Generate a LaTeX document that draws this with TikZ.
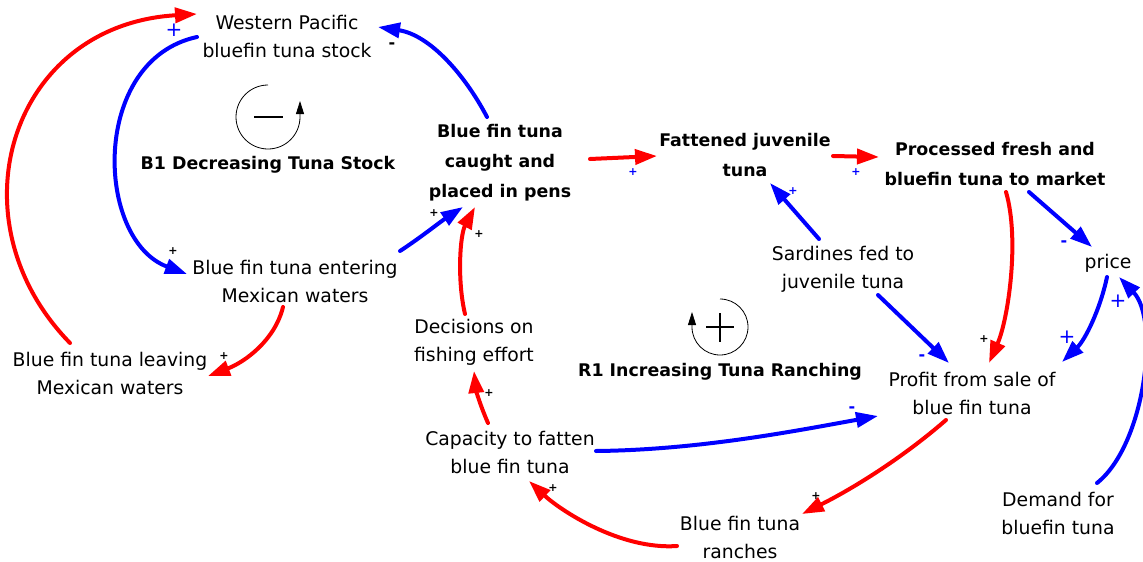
\documentclass[tikz,border=0pt]{standalone}
\usepackage{fontspec}
\setmainfont{DejaVu Sans}
\usetikzlibrary{arrows.meta,calc}
\definecolor{cred}{RGB}{255,0,0}
\definecolor{cblue}{RGB}{0,0,255}
\begin{document}
\begin{tikzpicture}[x=1pt,y=-1pt,
  txt/.style={align=center,inner sep=0pt,font=\fontsize{18.8}{28}\selectfont},
  btxt/.style={align=center,inner sep=0pt,font=\fontsize{17.4}{30}\selectfont\bfseries},
  link/.style={line width=4pt,line cap=round,-{Triangle[length=22pt,width=15pt]}},
  rl/.style={link,cred}, bl/.style={link,cblue},
  pk/.style={font=\fontsize{11}{11}\selectfont\bfseries,inner sep=0pt},
  pb/.style={pk,text=cblue},
  mk/.style={font=\fontsize{16}{16}\selectfont\bfseries,inner sep=0pt},
  mb/.style={mk,text=cblue},
  pbig/.style={font=\fontsize{20}{20}\selectfont,inner sep=0pt,text=cblue},
  loop/.style={line width=0.8pt,-{Triangle[length=13pt,width=8pt]}}
]
\useasboundingbox (0,0) rectangle (1143,562);

% nodes
\node[txt]  (wps)    at (287,36)  {Western Pacific\\bluefin tuna stock};
\node[btxt] (caught) at (500,163) {Blue fin tuna\\caught and\\placed in pens};
\node[btxt] (fat)    at (745,155) {Fattened juvenile\\tuna};
\node[btxt] (proc)   at (995,164) {Processed fresh and\\bluefin tuna to market};
\node[txt]  (price)  at (1108,263) {price};
\node[txt]  (sard)   at (843,269) {Sardines fed to\\juvenile tuna};
\node[txt]  (enter)  at (295,281) {Blue fin tuna entering\\Mexican waters};
\node[txt]  (leave)  at (110,373) {Blue fin tuna leaving\\Mexican waters};
\node[txt]  (dec)    at (474,342) {Decisions on\\fishing effort};
\node[txt]  (profit) at (972,393) {Profit from sale of\\blue fin tuna};
\node[txt]  (cap)    at (510,452) {Capacity to fatten\\blue fin tuna};
\node[txt]  (ranch)  at (740,537) {Blue fin tuna\\ranches};
\node[txt]  (demand) at (1058,513) {Demand for\\bluefin tuna};
\node[btxt] (b1)     at (268,165) {B1 Decreasing Tuna Stock};
\node[btxt] (r1)     at (720,372) {R1 Increasing Tuna Ranching};

% loop symbols
\draw[loop] (268,85) arc[start angle=270,end angle=0,radius=32] -- ++(0,-16);
\draw[line width=2.2pt] (254,117) -- (283,117);
\draw[loop] (720,299) arc[start angle=270,end angle=540,radius=28] -- ++(0,-15);
\draw[line width=1.3pt] (706,327) -- (734,327) (720,313) -- (720,342);

% connectors
\draw[rl] ($(leave)+(-40,-30)$) .. controls (-50,220) and (10,25) .. ($(wps)+(-90,-22)$);
\draw[bl] ($(wps)+(-90,1)$) .. controls (90,60) and (95,240) .. ($(enter)+(-108,-7)$);
\draw[bl] ($(caught)+(-13,-46)$) .. controls (465,75) and (430,35) .. ($(wps)+(91,-9)$);
\draw[bl] ($(enter)+(105,-30)$) .. controls (420,238) and (440,222) .. ($(caught)+(-37,44)$);
\draw[rl] ($(enter)+(-12,26)$) .. controls (275,340) and (245,362) .. ($(leave)+(98,3)$);
\draw[rl] ($(dec)+(-9,-28)$) .. controls (457,280) and (460,235) .. ($(caught)+(-25,44)$);
\draw[rl] ($(caught)+(90,-4)$) -- ($(fat)+(-88,1)$);
\draw[rl] ($(fat)+(88,1)$) -- ($(proc)+(-116,-7)$);
\draw[bl] ($(sard)+(-24,-30)$) -- ($(fat)+(25,28)$);
\draw[bl] ($(proc)+(34,28)$) -- ($(price)+(-16,-16)$);
\draw[rl] ($(proc)+(11,28)$) .. controls (1020,240) and (1008,320) .. ($(profit)+(17,-30)$);
\draw[bl] ($(sard)+(35,26)$) -- ($(profit)+(-23,-30)$);
\draw[bl] ($(price)+(-1,14)$) .. controls (1100,310) and (1085,340) .. ($(profit)+(90,-31)$);
\draw[bl] ($(demand)+(39,-30)$) .. controls (1145,445) and (1160,320) .. ($(price)+(11,14)$);
\draw[bl] ($(cap)+(86,-1)$) .. controls (700,450) and (800,430) .. ($(profit)+(-94,23)$);
\draw[rl] ($(profit)+(-26,27)$) .. controls (900,460) and (850,490) .. ($(ranch)+(62,-23)$);
\draw[rl] ($(ranch)+(-63,9)$) .. controls (620,550) and (560,510) .. ($(cap)+(19,29)$);
\draw[rl] ($(cap)+(-22,-29)$) .. controls (480,405) and (476,390) .. ($(dec)+(0,29)$);

% polarity labels
\node[pbig] (p1) at (174,30) {+};
\node[mk]   (p2) at (392,46) {-};
\node[pk]   (p3) at (173,251) {+};
\node[pk]   (p4) at (224,356) {+};
\node[pk]   (p5) at (434,213) {+};
\node[pk]   (p6) at (479,234) {+};
\node[pb]   (p7) at (633,172) {+};
\node[pb]   (p8) at (856,172) {+};
\node[pb]   (p9) at (793,191) {+};
\node[mb]   (p10) at (1064,244) {-};
\node[pk]   (p11) at (984,339) {+};
\node[mb]   (p12) at (922,358) {-};
\node[pbig] (p13) at (1067,337) {+};
\node[pbig] (p14) at (1118,301) {+};
\node[mb]   (p15) at (852,410) {-};
\node[pk]   (p16) at (816,496) {+};
\node[pk]   (p17) at (553,488) {+};
\node[pk]   (p18) at (489,393) {+};
\end{tikzpicture}
\end{document}
